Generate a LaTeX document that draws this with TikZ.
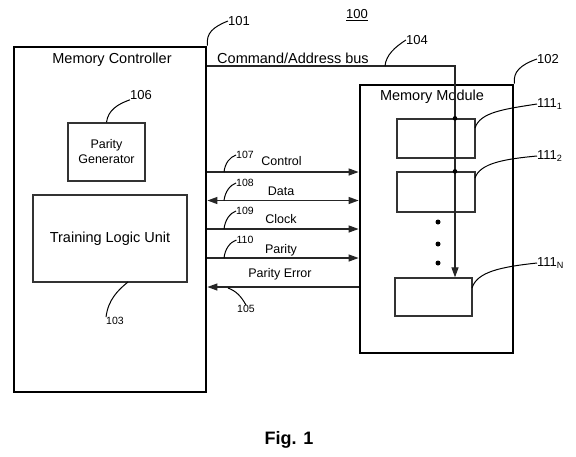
\documentclass[tikz,border=0pt]{standalone}
\usepackage{fontspec}
\setmainfont{Liberation Sans}
\usetikzlibrary{arrows.meta}
\begin{document}
\begin{tikzpicture}[x=1pt,y=-1pt,
  >={Triangle[length=10pt,width=7pt]},
  outerbox/.style={draw, line width=2.8pt, inner sep=0pt},
  innerbox/.style={draw=black!80, line width=1.3pt, inner sep=0pt},
  bigtxt/.style={font=\fontsize{14.5}{16}\selectfont, inner sep=0pt},
  midtxt/.style={font=\fontsize{12.5}{15}\selectfont, inner sep=0pt, align=center},
  numtxt/.style={font=\fontsize{13}{15}\selectfont, inner sep=0pt},
  smalltxt/.style={font=\fontsize{10.5}{12}\selectfont, inner sep=0pt},
  lead/.style={line width=1pt},
  sig/.style={line width=1.2pt, draw=black!85},
  dot/.style={fill=black}]
\useasboundingbox[fill=white] (0,0) rectangle (576,456);

% main boxes
\node[outerbox, minimum width=192pt, minimum height=345pt] (mc) at (110,219.5) {};
\node[outerbox, minimum width=153pt, minimum height=268pt] (mm) at (436.5,219) {};
\node[bigtxt] (mctitle) at (112,60) {Memory Controller};
\node[bigtxt] (mmtitle) at (432,97) {Memory Module};

% inner controller blocks
\node[innerbox, minimum width=77pt, minimum height=58pt, midtxt] (pg) at (106.5,152) {Parity\\Generator};
\node[innerbox, minimum width=154pt, minimum height=87pt, bigtxt] (tlu) at (110,238.5) {Training Logic Unit};

% memory devices
\node[innerbox, minimum width=78pt, minimum height=39pt] (m1) at (436,138.5) {};
\node[innerbox, minimum width=78pt, minimum height=40pt] (m2) at (436,192) {};
\node[innerbox, minimum width=77pt, minimum height=38pt] (mN) at (433.5,297) {};
\fill[dot] (438,222) circle (2.5);
\fill[dot] (438,244) circle (2.5);
\fill[dot] (438,263) circle (2.5);

% title and figure label
\node[numtxt] (l100) at (357,15) {\underline{100}};
\node[font=\bfseries\fontsize{18}{20}\selectfont, inner sep=0pt] (fig) at (289,440) {Fig. 1};

% command/address bus
\coordinate (busx) at (455,66);
\node[bigtxt] (cab) at (293,58) {Command/Address bus};
\draw[sig, ->] (mc.east |- busx) -- (busx) -- (busx |- mN.north);
\fill[dot] (busx |- m1.north) circle (2.3);
\fill[dot] (busx |- m2.north) circle (2.3);

% signal lines
\coordinate (yc) at (0,172);
\coordinate (yd) at (0,200.5);
\coordinate (yk) at (0,229);
\coordinate (yp) at (0,258);
\coordinate (ye) at (0,287);
\draw[sig, ->] (mc.east |- yc) -- (mm.west |- yc);
\draw[sig, <->] (mc.east |- yd) -- (mm.west |- yd);
\draw[sig, ->] (mc.east |- yk) -- (mm.west |- yk);
\draw[sig, ->] (mc.east |- yp) -- (mm.west |- yp);
\draw[sig, <-] (mc.east |- ye) -- (mm.west |- ye);
\node[midtxt] (tc) at (281.5,161) {Control};
\node[midtxt] (td) at (281,191) {Data};
\node[midtxt] (tk) at (281,219) {Clock};
\node[midtxt] (tp) at (281,250) {Parity};
\node[midtxt] (te) at (280,274) {Parity Error};

% reference numerals with leaders
\node[numtxt] (l101) at (239,21) {101};
\draw[lead] (mc.north east) .. controls (206,33) and (213,27) .. (l101.west);
\node[numtxt] (l102) at (548,59) {102};
\draw[lead] (mm.north east) .. controls (513,72) and (520,65) .. (l102.west);
\node[numtxt] (l104) at (417,40) {104};
\draw[lead] (385,66) .. controls (386,55) and (395,47) .. (l104.west);
\node[numtxt] (l106) at (141,95) {106};
\draw[lead] (pg.north) .. controls (108,110) and (118,104) .. (l106.south west);
\node[smalltxt] (l103) at (115,321) {103};
\draw[lead] (128,282) .. controls (118,290) and (108,300) .. (l103.north west);

\node[smalltxt] (l107) at (245,155) {107};
\draw[lead] (224,172) .. controls (225,163) and (230,157) .. (l107.west);
\node[smalltxt] (l108) at (245,183) {108};
\draw[lead] (224,200.5) .. controls (225,192) and (230,185) .. (l108.west);
\node[smalltxt] (l109) at (245,211) {109};
\draw[lead] (224,229) .. controls (225,220) and (230,213) .. (l109.west);
\node[smalltxt] (l110) at (245,240) {110};
\draw[lead] (224,258) .. controls (225,249) and (230,242) .. (l110.west);
\node[smalltxt] (l105) at (246,309) {105};
\draw[lead] (228,288) .. controls (236,291) and (241,296) .. (l105.north);

\node[numtxt, anchor=west] (l1111) at (537,104) {111\textsubscript{1}};
\draw[lead] (475,128) .. controls (480,112) and (505,109) .. (l1111.west);
\node[numtxt, anchor=west] (l1112) at (537,156) {111\textsubscript{2}};
\draw[lead] (475,178) .. controls (480,163) and (505,159) .. (l1112.west);
\node[numtxt, anchor=west] (l111N) at (537,263) {111\textsubscript{N}};
\draw[lead] (472,288) .. controls (477,272) and (500,267) .. (l111N.west);
\end{tikzpicture}
\end{document}
